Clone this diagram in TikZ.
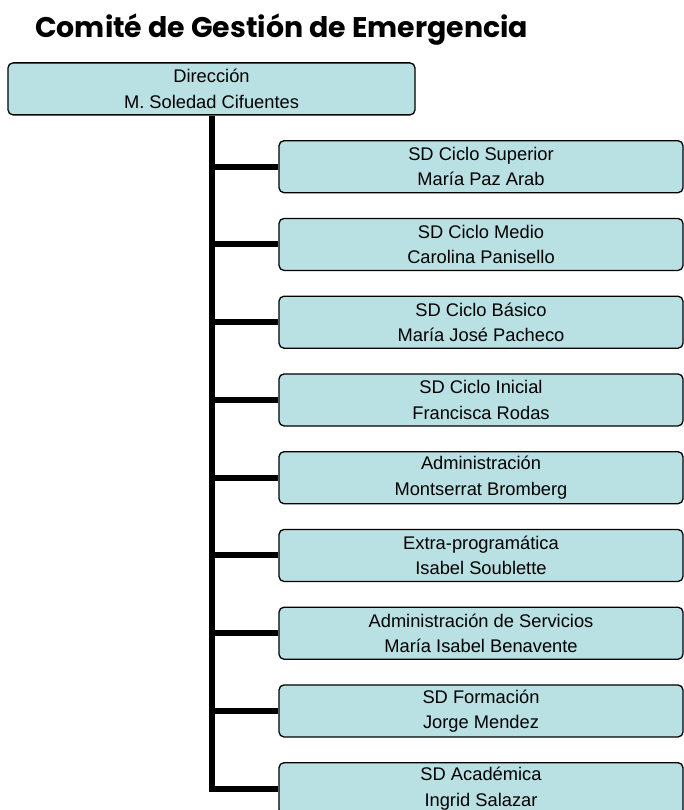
\documentclass[tikz,border=0pt]{standalone}
\usepackage{fontspec}
\setmainfont{Liberation Sans}
\newfontfamily\titlefont{Poppins}
\usepackage{tikz}

\begin{document}
\begin{tikzpicture}[x=1pt,y=-1pt,
  cargo/.style={rectangle,rounded corners=5pt,draw=black,line width=1.3pt,
    fill=cajacolor,minimum width=404pt,minimum height=52pt,inner sep=0pt,
    align=center,font=\fontsize{18.3}{25.5}\selectfont},
  rama/.style={line width=6pt,line join=miter}]
\definecolor{cajacolor}{RGB}{185,224,227}
\useasboundingbox (0,0) rectangle (684,810);
\clip (0,0) rectangle (684,810);

\node[anchor=base west,inner sep=0pt,font=\titlefont\bfseries\fontsize{28.4}{32}\selectfont] (titulo) at (35,37.3) {Comité de Gestión de Emergencia};

\node[cargo,minimum width=407pt] (dir) at (211.5,88.9) {Dirección\\M. Soledad Cifuentes};

\node[cargo] (sup) at (481,166.7) {SD Ciclo Superior\\María Paz Arab};
\node[cargo] (med) at (481,244.45) {SD Ciclo Medio\\Carolina Panisello};
\node[cargo] (bas) at (481,322.2) {SD Ciclo Básico\\María José Pacheco};
\node[cargo] (ini) at (481,399.95) {SD Ciclo Inicial\\Francisca Rodas};
\node[cargo] (adm) at (481,477.7) {Administración\\Montserrat Bromberg};
\node[cargo] (ext) at (481,555.45) {Extra-programática\\Isabel Soublette};
\node[cargo] (ser) at (481,633.2) {Administración de Servicios\\María Isabel Benavente};
\node[cargo] (for) at (481,710.95) {SD Formación\\Jorge Mendez};
\node[cargo] (aca) at (481,788.7) {SD Académica\\Ingrid Salazar};

\draw[rama] (dir.south) |- (aca.west);
\draw[rama] (dir.south |- sup.west) -- (sup.west);
\draw[rama] (dir.south |- med.west) -- (med.west);
\draw[rama] (dir.south |- bas.west) -- (bas.west);
\draw[rama] (dir.south |- ini.west) -- (ini.west);
\draw[rama] (dir.south |- adm.west) -- (adm.west);
\draw[rama] (dir.south |- ext.west) -- (ext.west);
\draw[rama] (dir.south |- ser.west) -- (ser.west);
\draw[rama] (dir.south |- for.west) -- (for.west);
\end{tikzpicture}
\end{document}
